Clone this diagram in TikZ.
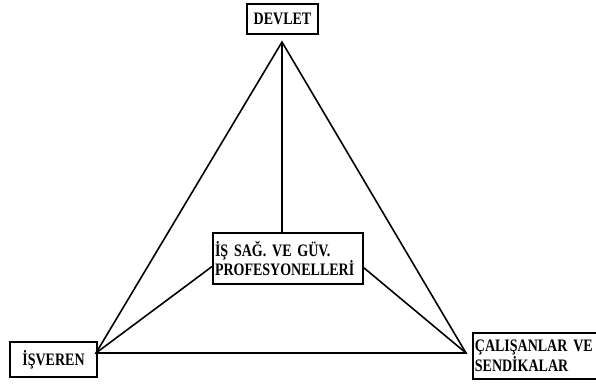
\documentclass[tikz,border=0pt]{standalone}
\usepackage{fontspec}
\setmainfont{Liberation Serif}[FakeStretch=0.8]
\usepackage{tikz}
\usetikzlibrary{positioning}
\tikzset{party/.style = {draw, rectangle, line width=1.8pt, font=\fontsize{17.5}{17.5}\selectfont\bfseries, inner sep=2pt}}
\tikzset{partyleft/.style = {party, align=left, text width=#1}}
\tikzset{link/.style = {line width=1.6pt}}

\begin{document}
\begin{tikzpicture}[x=1pt, y=-1pt]
  \useasboundingbox (0,0) rectangle (596,383);
  \node [party, minimum width=71pt, minimum height=30pt] (devlet) at (282.5,19) {DEVLET};
  \node [party, minimum width=87pt, minimum height=35pt] (isveren) at (53.5,359.5) {İŞVEREN};
  \node [partyleft=146pt, minimum height=51pt] (prof) at (288,258.5) {İŞ SAĞ. VE GÜV.\\PROFESYONELLERİ};
  \node [partyleft=121pt, minimum height=46pt, anchor=west] (calisan) at (472,356) {ÇALIŞANLAR VE\\SENDİKALAR};

  \coordinate (top) at (282,42);
  \coordinate (left) at (96,353);
  \coordinate (right) at (466,353);

  \draw[link] (top) -- (left) -- (right) -- cycle;
  \draw[link] (top) -- (top |- prof.north);
  \draw[link] (prof.186) -- (left);
  \draw[link] (prof.-7) -- (right);
\end{tikzpicture}
\end{document}
